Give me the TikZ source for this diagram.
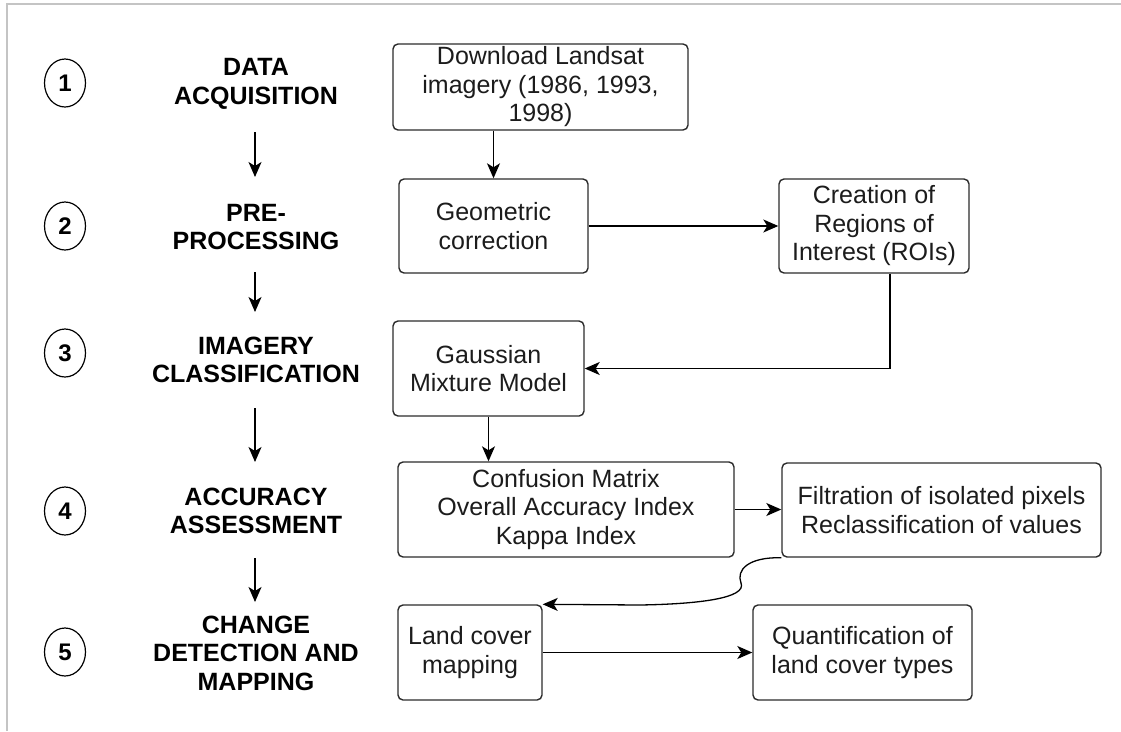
\documentclass[tikz,border=0pt]{standalone}
\usepackage{fontspec}
\setmainfont{Liberation Sans}
\usetikzlibrary{arrows.meta,shapes.geometric}
\definecolor{boxline}{HTML}{2B2B2B}
\definecolor{boxtext}{HTML}{1C1C1C}
\definecolor{framegray}{HTML}{C4C4C4}
\tikzset{
  stepbox/.style={draw=boxline, line width=1.4pt, rounded corners=5pt, inner sep=0pt,
    align=center, text=boxtext, font=\fontsize{25}{28.5}\selectfont},
  stagelabel/.style={align=center, inner sep=0pt, font=\bfseries\fontsize{25}{28.5}\selectfont},
  stagenum/.style={draw=black, ellipse, line width=1.2pt, minimum width=41pt, minimum height=48pt,
    inner sep=0pt, font=\bfseries\fontsize{24}{24}\selectfont},
  conn/.style={draw=black, line width=1.3pt, -{Stealth[length=15pt,width=13pt,inset=4pt]}},
}
\begin{document}
\begin{tikzpicture}[x=1pt,y=-1pt]
\useasboundingbox (0,0) rectangle (1121,731);
% frame
\draw[framegray, line width=2pt] (7,731) -- (7,4) -- (1121,4);

% stage numbers
\node[stagenum] (c1) at (65,83) {1};
\node[stagenum] (c2) at (65,226) {2};
\node[stagenum] (c3) at (65,353) {3};
\node[stagenum] (c4) at (65,511) {4};
\node[stagenum] (c5) at (65,652) {5};

% stage labels
\node[stagelabel] (s1) at (256,84) {DATA\\ACQUISITION};
\node[stagelabel] (s2) at (256,227) {PRE-\\PROCESSING};
\node[stagelabel] (s3) at (256,360) {IMAGERY\\CLASSIFICATION};
\node[stagelabel] (s4) at (256,511) {ACCURACY\\ASSESSMENT};
\node[stagelabel] (s5) at (256,653) {CHANGE\\DETECTION AND\\MAPPING};

% arrows between stage labels
\coordinate (a1s) at (255,132); \coordinate (a1e) at (255,177);
\coordinate (a2s) at (255,272); \coordinate (a2e) at (255,312);
\coordinate (a3s) at (255,408); \coordinate (a3e) at (255,462);
\coordinate (a4s) at (255,558); \coordinate (a4e) at (255,602);
\draw[conn] (a1s) -- (a1e);
\draw[conn] (a2s) -- (a2e);
\draw[conn] (a3s) -- (a3e);
\draw[conn] (a4s) -- (a4e);

% boxes
\node[stepbox, minimum width=295pt, minimum height=86pt] (dl) at (540.5,87) {Download Landsat\\imagery (1986, 1993,\\1998)};
\node[stepbox, minimum width=189pt, minimum height=94pt] (geo) at (493.5,226) {Geometric\\correction};
\node[stepbox, minimum width=190pt, minimum height=94pt] (roi) at (874,226) {Creation of\\Regions of\\Interest (ROIs)};
\node[stepbox, minimum width=191pt, minimum height=95pt] (gmm) at (488.5,368.5) {Gaussian\\Mixture Model};
\node[stepbox, minimum width=336pt, minimum height=95pt] (conf) at (566,509.5) {Confusion Matrix\\Overall Accuracy Index\\Kappa Index};
\node[stepbox, minimum width=319pt, minimum height=94pt] (filt) at (941.5,510) {Filtration of isolated pixels\\Reclassification of values};
\node[stepbox, minimum width=144pt, minimum height=95pt] (land) at (470,652.5) {Land cover\\mapping};
\node[stepbox, minimum width=219pt, minimum height=95pt] (quant) at (862.5,652.5) {Quantification of\\land cover types};

% connectors
\draw[conn] (dl.south -| geo.north) -- (geo.north);
\draw[conn] (geo.east) -- (geo.east -| roi.west);
\draw[conn] ([xshift=16pt]roi.south) |- (gmm.east);
\draw[conn] (gmm.south) -- (gmm.south |- conf.north);
\draw[conn] (conf.east) -- (conf.east -| filt.west);
\draw[conn] (filt.south west) .. controls (748,557) and (736,570) .. (741,583)
  .. controls (747,598) and (700,604) .. (640,605) -- (land.north east);
\draw[conn] (land.east) -- (land.east -| quant.west);
\end{tikzpicture}
\end{document}
